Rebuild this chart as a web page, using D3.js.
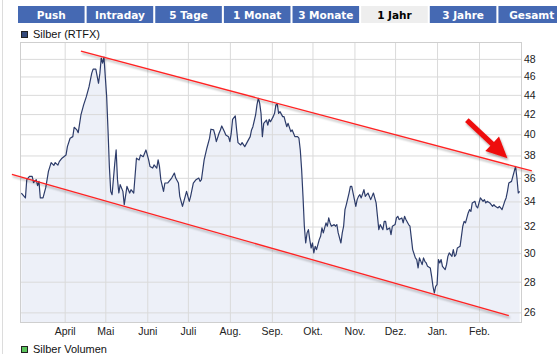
<!DOCTYPE html>
<html>
<head>
<meta charset="utf-8">
<script src="https://cdn.jsdelivr.net/npm/d3@7"></script>
<style>
  body { margin: 0; background: #fff; }
  svg { display: block; }
</style>
</head>
<body>
<div id="chart"></div>
<script>
// tabs above the chart
var tabLabels = ["Push", "Intraday", "5 Tage", "1 Monat", "3 Monate", "1 Jahr", "3 Jahre", "Gesamt"];
var activeTab = "1 Jahr";

// price series
var priceDates = [
  "2011-02-28","2011-03-03","2011-03-04","2011-03-06","2011-03-08","2011-03-09","2011-03-11","2011-03-12","2011-03-13","2011-03-14",
  "2011-03-16","2011-03-18","2011-03-19","2011-03-20","2011-03-22","2011-03-24","2011-03-25","2011-03-27","2011-03-28","2011-03-30",
  "2011-04-02","2011-04-03","2011-04-05","2011-04-07","2011-04-08","2011-04-10","2011-04-11","2011-04-13","2011-04-15","2011-04-17",
  "2011-04-19","2011-04-21","2011-04-22","2011-04-24","2011-04-26","2011-04-27","2011-04-28","2011-04-29","2011-04-30","2011-05-02",
  "2011-05-03","2011-05-04","2011-05-05","2011-05-06","2011-05-08","2011-05-09","2011-05-10","2011-05-11","2011-05-12","2011-05-14",
  "2011-05-15","2011-05-17","2011-05-19","2011-05-20","2011-05-22","2011-05-24","2011-05-26","2011-05-27","2011-05-29","2011-05-31",
  "2011-06-02","2011-06-03","2011-06-05","2011-06-06","2011-06-08","2011-06-09","2011-06-10","2011-06-11","2011-06-13","2011-06-14",
  "2011-06-16","2011-06-19","2011-06-21","2011-06-22","2011-06-24","2011-06-25","2011-06-27","2011-06-29","2011-06-30","2011-07-02",
  "2011-07-03","2011-07-05","2011-07-07","2011-07-09","2011-07-10","2011-07-11","2011-07-13","2011-07-15","2011-07-17","2011-07-18",
  "2011-07-20","2011-07-21","2011-07-22","2011-07-24","2011-07-25","2011-07-26","2011-07-28","2011-07-29","2011-07-31","2011-08-01",
  "2011-08-02","2011-08-03","2011-08-05","2011-08-06","2011-08-07","2011-08-09","2011-08-10","2011-08-12","2011-08-14","2011-08-16",
  "2011-08-17","2011-08-18","2011-08-20","2011-08-21","2011-08-22","2011-08-23","2011-08-24","2011-08-25","2011-08-26","2011-08-28",
  "2011-08-29","2011-08-30","2011-08-31","2011-09-02","2011-09-03","2011-09-04","2011-09-05","2011-09-06","2011-09-07","2011-09-09",
  "2011-09-10","2011-09-11","2011-09-12","2011-09-13","2011-09-15","2011-09-16","2011-09-17","2011-09-18","2011-09-20","2011-09-21",
  "2011-09-22","2011-09-23","2011-09-24","2011-09-25","2011-09-26","2011-09-27","2011-09-28","2011-09-29","2011-09-30","2011-10-01",
  "2011-10-02","2011-10-03","2011-10-04","2011-10-06","2011-10-07","2011-10-08","2011-10-09","2011-10-11","2011-10-12","2011-10-13",
  "2011-10-14","2011-10-15","2011-10-17","2011-10-18","2011-10-19","2011-10-20","2011-10-22","2011-10-23","2011-10-24","2011-10-25",
  "2011-10-26","2011-10-28","2011-10-29","2011-10-30","2011-10-31","2011-11-02","2011-11-03","2011-11-04","2011-11-05","2011-11-06",
  "2011-11-08","2011-11-09","2011-11-10","2011-11-11","2011-11-13","2011-11-14","2011-11-15","2011-11-16","2011-11-17","2011-11-18",
  "2011-11-19","2011-11-20","2011-11-22","2011-11-23","2011-11-24","2011-11-25","2011-11-27","2011-11-28","2011-11-29","2011-12-01",
  "2011-12-02","2011-12-03","2011-12-04","2011-12-06","2011-12-07","2011-12-08","2011-12-09","2011-12-11","2011-12-12","2011-12-13",
  "2011-12-14","2011-12-16","2011-12-17","2011-12-18","2011-12-19","2011-12-21","2011-12-22","2011-12-23","2011-12-24","2011-12-25",
  "2011-12-27","2011-12-28","2011-12-29","2011-12-30","2011-12-31","2012-01-01","2012-01-02","2012-01-03","2012-01-04","2012-01-05",
  "2012-01-07","2012-01-08","2012-01-09","2012-01-10","2012-01-12","2012-01-13","2012-01-14","2012-01-15","2012-01-16","2012-01-18",
  "2012-01-19","2012-01-20","2012-01-21","2012-01-22","2012-01-24","2012-01-25","2012-01-26","2012-01-27","2012-01-29","2012-01-30",
  "2012-01-31","2012-02-01","2012-02-02","2012-02-04","2012-02-05","2012-02-06","2012-02-07","2012-02-09","2012-02-10","2012-02-11",
  "2012-02-12","2012-02-13","2012-02-15","2012-02-16","2012-02-17","2012-02-18","2012-02-20","2012-02-21","2012-02-22","2012-02-23",
  "2012-02-25","2012-02-26","2012-02-27","2012-02-28","2012-02-29","2012-03-01","2012-03-02"
];
var priceValues = [
  34.70,34.29,35.84,36.12,36.12,35.58,35.84,35.32,35.69,34.29,
  34.29,35.15,35.84,36.56,37.35,37.10,37.35,37.12,37.44,37.75,
  38.05,38.82,39.62,39.77,40.68,40.42,40.15,41.91,42.94,43.81,
  44.88,46.37,46.82,46.82,45.25,46.37,48.10,47.50,48.20,43.81,
  40.42,37.00,34.84,34.56,37.30,38.51,35.84,34.70,35.41,34.84,
  33.74,35.26,34.70,34.98,34.70,37.75,37.59,38.05,37.89,38.51,
  37.59,37.00,36.86,37.14,36.86,37.59,37.00,35.84,34.84,35.55,
  35.55,35.98,36.42,35.98,35.55,34.42,33.60,34.42,34.84,34.01,
  34.42,35.55,35.84,35.98,35.69,35.84,37.59,38.67,39.62,40.49,
  40.42,39.93,39.29,40.10,40.42,40.81,40.25,39.93,39.77,39.29,
  40.10,41.47,41.81,40.42,39.20,38.98,39.20,38.82,39.29,39.77,
  40.42,40.74,41.91,42.94,43.64,43.12,42.08,39.77,41.07,41.40,
  40.90,41.47,41.23,41.74,42.08,42.94,43.04,42.08,42.25,41.74,
  41.74,41.23,40.74,41.07,40.25,40.42,40.10,39.77,39.77,39.62,
  38.51,36.71,34.42,32.02,30.75,31.51,31.76,31.00,30.38,30.75,
  30.02,30.50,30.26,31.00,31.25,31.89,31.51,32.28,32.02,32.67,
  32.28,32.02,32.15,32.02,32.15,31.51,30.75,31.51,32.02,33.33,
  33.74,34.70,35.26,35.26,34.70,33.60,34.15,34.42,34.56,34.29,
  34.98,34.42,34.56,34.70,34.15,34.42,34.70,34.29,33.88,32.80,
  31.76,32.15,31.76,32.40,32.40,31.76,31.89,31.38,32.02,32.15,
  32.67,32.80,32.54,32.67,32.28,32.80,32.54,32.15,32.02,31.13,
  30.26,29.66,29.54,28.95,29.66,29.18,29.66,29.42,29.30,29.06,
  28.95,28.37,27.69,27.25,27.69,27.80,29.54,29.30,29.54,29.06,
  28.83,29.18,29.77,30.02,29.77,30.26,29.77,29.90,30.38,30.50,
  31.25,32.02,32.40,32.28,33.07,33.33,33.19,33.88,34.01,33.60,
  33.47,33.88,34.29,34.01,34.15,33.88,34.01,33.88,33.74,33.60,
  33.74,33.60,33.47,33.60,33.47,33.33,34.01,34.29,34.84,35.55,
  35.69,36.12,36.56,37.00,35.98,34.70,34.84
];

var yTicks = [26, 28, 30, 32, 34, 36, 38, 40, 42, 44, 46, 48];
var monthDates = ["2011-04-01","2011-05-01","2011-06-01","2011-07-01","2011-08-01","2011-09-01",
                  "2011-10-01","2011-11-01","2011-12-01","2012-01-01","2012-02-01"];
var monthLabels = ["April", "Mai", "Juni", "Juli", "Aug.", "Sep.", "Okt.", "Nov.", "Dez.", "Jan.", "Feb."];

// hand drawn trend channel + arrow (date, value)
var upperTrend = [["2011-04-13", 48.9], ["2012-03-11", 36.6]];
var lowerTrend = [["2011-02-21", 36.3], ["2012-02-23", 25.8]];
var arrowLine = [["2012-01-23", 41.4], ["2012-02-22", 37.75]];

var legendTop = "Silber (RTFX)";
var legendBottom = "Silber Volumen";

var Width = 557, Height = 354;
var parse = d3.timeParse("%Y-%m-%d");
var FONT = "'Liberation Sans', Arial, sans-serif";

var svg = d3.select("#chart").append("svg")
    .attr("width", Width)
    .attr("height", Height);

var defs = svg.append("defs");
defs.append("filter")
    .attr("id", "shadow")
    .attr("filterUnits", "userSpaceOnUse")
    .attr("x", 0).attr("y", 0).attr("width", Width).attr("height", Height)
    .append("feDropShadow")
    .attr("dx", 1).attr("dy", 2)
    .attr("stdDeviation", 1.3)
    .attr("flood-color", "#000")
    .attr("flood-opacity", 0.35);

// outer frame line on the left
svg.append("line")
    .attr("x1", 2.5).attr("x2", 2.5).attr("y1", 0).attr("y2", Height)
    .attr("stroke", "#dcdcdc");

// tabs
var tabX = d3.scaleBand()
    .domain(tabLabels)
    .range([18, 565])
    .paddingInner(0.03);

var tabs = svg.append("g").selectAll("g")
    .data(tabLabels)
    .enter()
    .append("g")
    .attr("transform", d => "translate(" + tabX(d) + ",6)");

tabs.append("rect")
    .attr("width", tabX.bandwidth())
    .attr("height", 17)
    .attr("fill", d => d === activeTab ? "#eeeeee" : "#4569b3");

tabs.append("text")
    .attr("x", tabX.bandwidth() / 2)
    .attr("y", 13)
    .attr("text-anchor", "middle")
    .attr("font-family", "'DejaVu Sans', Verdana, sans-serif")
    .attr("font-weight", "bold")
    .attr("font-size", "10.5px")
    .attr("fill", d => d === activeTab ? "#000" : "#fff")
    .text(d => d);

// plot area
var plot = { left: 20, right: 521, top: 42, bottom: 322 };

var x = d3.scaleTime()
    .domain([parse("2011-02-27"), parse("2012-03-03")])
    .range([plot.left, plot.right]);

var y = d3.scaleLog()
    .domain([25.4, 50])
    .range([plot.bottom, plot.top]);

var series = priceDates.map((d, i) => ({ date: parse(d), value: priceValues[i] }));

// area under the line
svg.append("path")
    .datum(series)
    .attr("fill", "#edf0f8")
    .attr("d", d3.area()
        .x(d => x(d.date))
        .y0(plot.bottom)
        .y1(d => y(d.value)));

// grid
var gridColor = "#dadada";
svg.append("g")
    .attr("transform", "translate(" + plot.left + ",0)")
    .call(d3.axisLeft(y).tickValues(yTicks).tickSize(-(plot.right - plot.left)).tickFormat(""))
    .call(g => g.select(".domain").remove())
    .call(g => g.selectAll("line").attr("stroke", gridColor));

svg.append("g")
    .attr("transform", "translate(0," + plot.bottom + ")")
    .call(d3.axisBottom(x).tickValues(monthDates.map(parse)).tickSize(-(plot.bottom - plot.top)).tickFormat(""))
    .call(g => g.select(".domain").remove())
    .call(g => g.selectAll("line").attr("stroke", gridColor));

// frame
svg.append("rect")
    .attr("x", plot.left + 0.5).attr("y", plot.top + 0.5)
    .attr("width", plot.right - plot.left)
    .attr("height", plot.bottom - plot.top)
    .attr("fill", "none")
    .attr("stroke", "#cfcfcf");

// price line
svg.append("path")
    .datum(series)
    .attr("fill", "none")
    .attr("stroke", "#2d3c6a")
    .attr("stroke-width", 1.2)
    .attr("stroke-linejoin", "round")
    .attr("d", d3.line()
        .x(d => x(d.date))
        .y(d => y(d.value)));

// axes labels
svg.append("g")
    .attr("transform", "translate(" + plot.right + ",0)")
    .call(d3.axisRight(y).tickValues(yTicks).tickSize(0).tickPadding(3).tickFormat(d3.format("d")))
    .call(g => g.select(".domain").remove())
    .call(g => g.selectAll("text")
        .attr("font-family", FONT)
        .attr("font-size", "10.5px")
        .attr("fill", "#222"));

svg.append("g")
    .attr("transform", "translate(0," + plot.bottom + ")")
    .call(d3.axisBottom(x).tickValues(monthDates.map(parse)).tickSize(0).tickPadding(6)
        .tickFormat((d, i) => monthLabels[i]))
    .call(g => g.select(".domain").remove())
    .call(g => g.selectAll("text")
        .attr("font-family", FONT)
        .attr("font-size", "10.5px")
        .attr("fill", "#222"));

// trend channel
[upperTrend, lowerTrend].forEach(t => {
    svg.append("line")
        .attr("x1", x(parse(t[0][0]))).attr("y1", y(t[0][1]))
        .attr("x2", x(parse(t[1][0]))).attr("y2", y(t[1][1]))
        .attr("stroke", "#ff2222")
        .attr("stroke-width", 1.3)
        .attr("filter", "url(#shadow)");
});

// arrow
var p0 = [x(parse(arrowLine[0][0])), y(arrowLine[0][1])];
var p1 = [x(parse(arrowLine[1][0])), y(arrowLine[1][1])];
var len = Math.hypot(p1[0] - p0[0], p1[1] - p0[1]);
var ux = (p1[0] - p0[0]) / len, uy = (p1[1] - p0[1]) / len;
var nx = -uy, ny = ux;
var shaft = 2.6, headLen = 21, headW = 10;
var bx = p1[0] - ux * headLen, by = p1[1] - uy * headLen;
var arrowPts = [
    [p0[0] + nx * shaft, p0[1] + ny * shaft],
    [bx + nx * shaft, by + ny * shaft],
    [bx + nx * headW, by + ny * headW],
    p1,
    [bx - nx * headW, by - ny * headW],
    [bx - nx * shaft, by - ny * shaft],
    [p0[0] - nx * shaft, p0[1] - ny * shaft]
];
svg.append("path")
    .attr("d", d3.line()(arrowPts) + "Z")
    .attr("fill", "#ee1111")
    .attr("filter", "url(#shadow)");

// legends
function legend(yPos, color, label) {
    svg.append("rect")
        .attr("x", 21.5).attr("y", yPos - 6.5)
        .attr("width", 6).attr("height", 6)
        .attr("fill", color)
        .attr("stroke", "#222");
    svg.append("text")
        .attr("x", 33).attr("y", yPos)
        .attr("font-family", FONT)
        .attr("font-size", "11px")
        .attr("fill", "#111")
        .text(label);
}
legend(38, "#34497a", legendTop);
legend(353, "#5cc45c", legendBottom);
</script>
</body>
</html>
